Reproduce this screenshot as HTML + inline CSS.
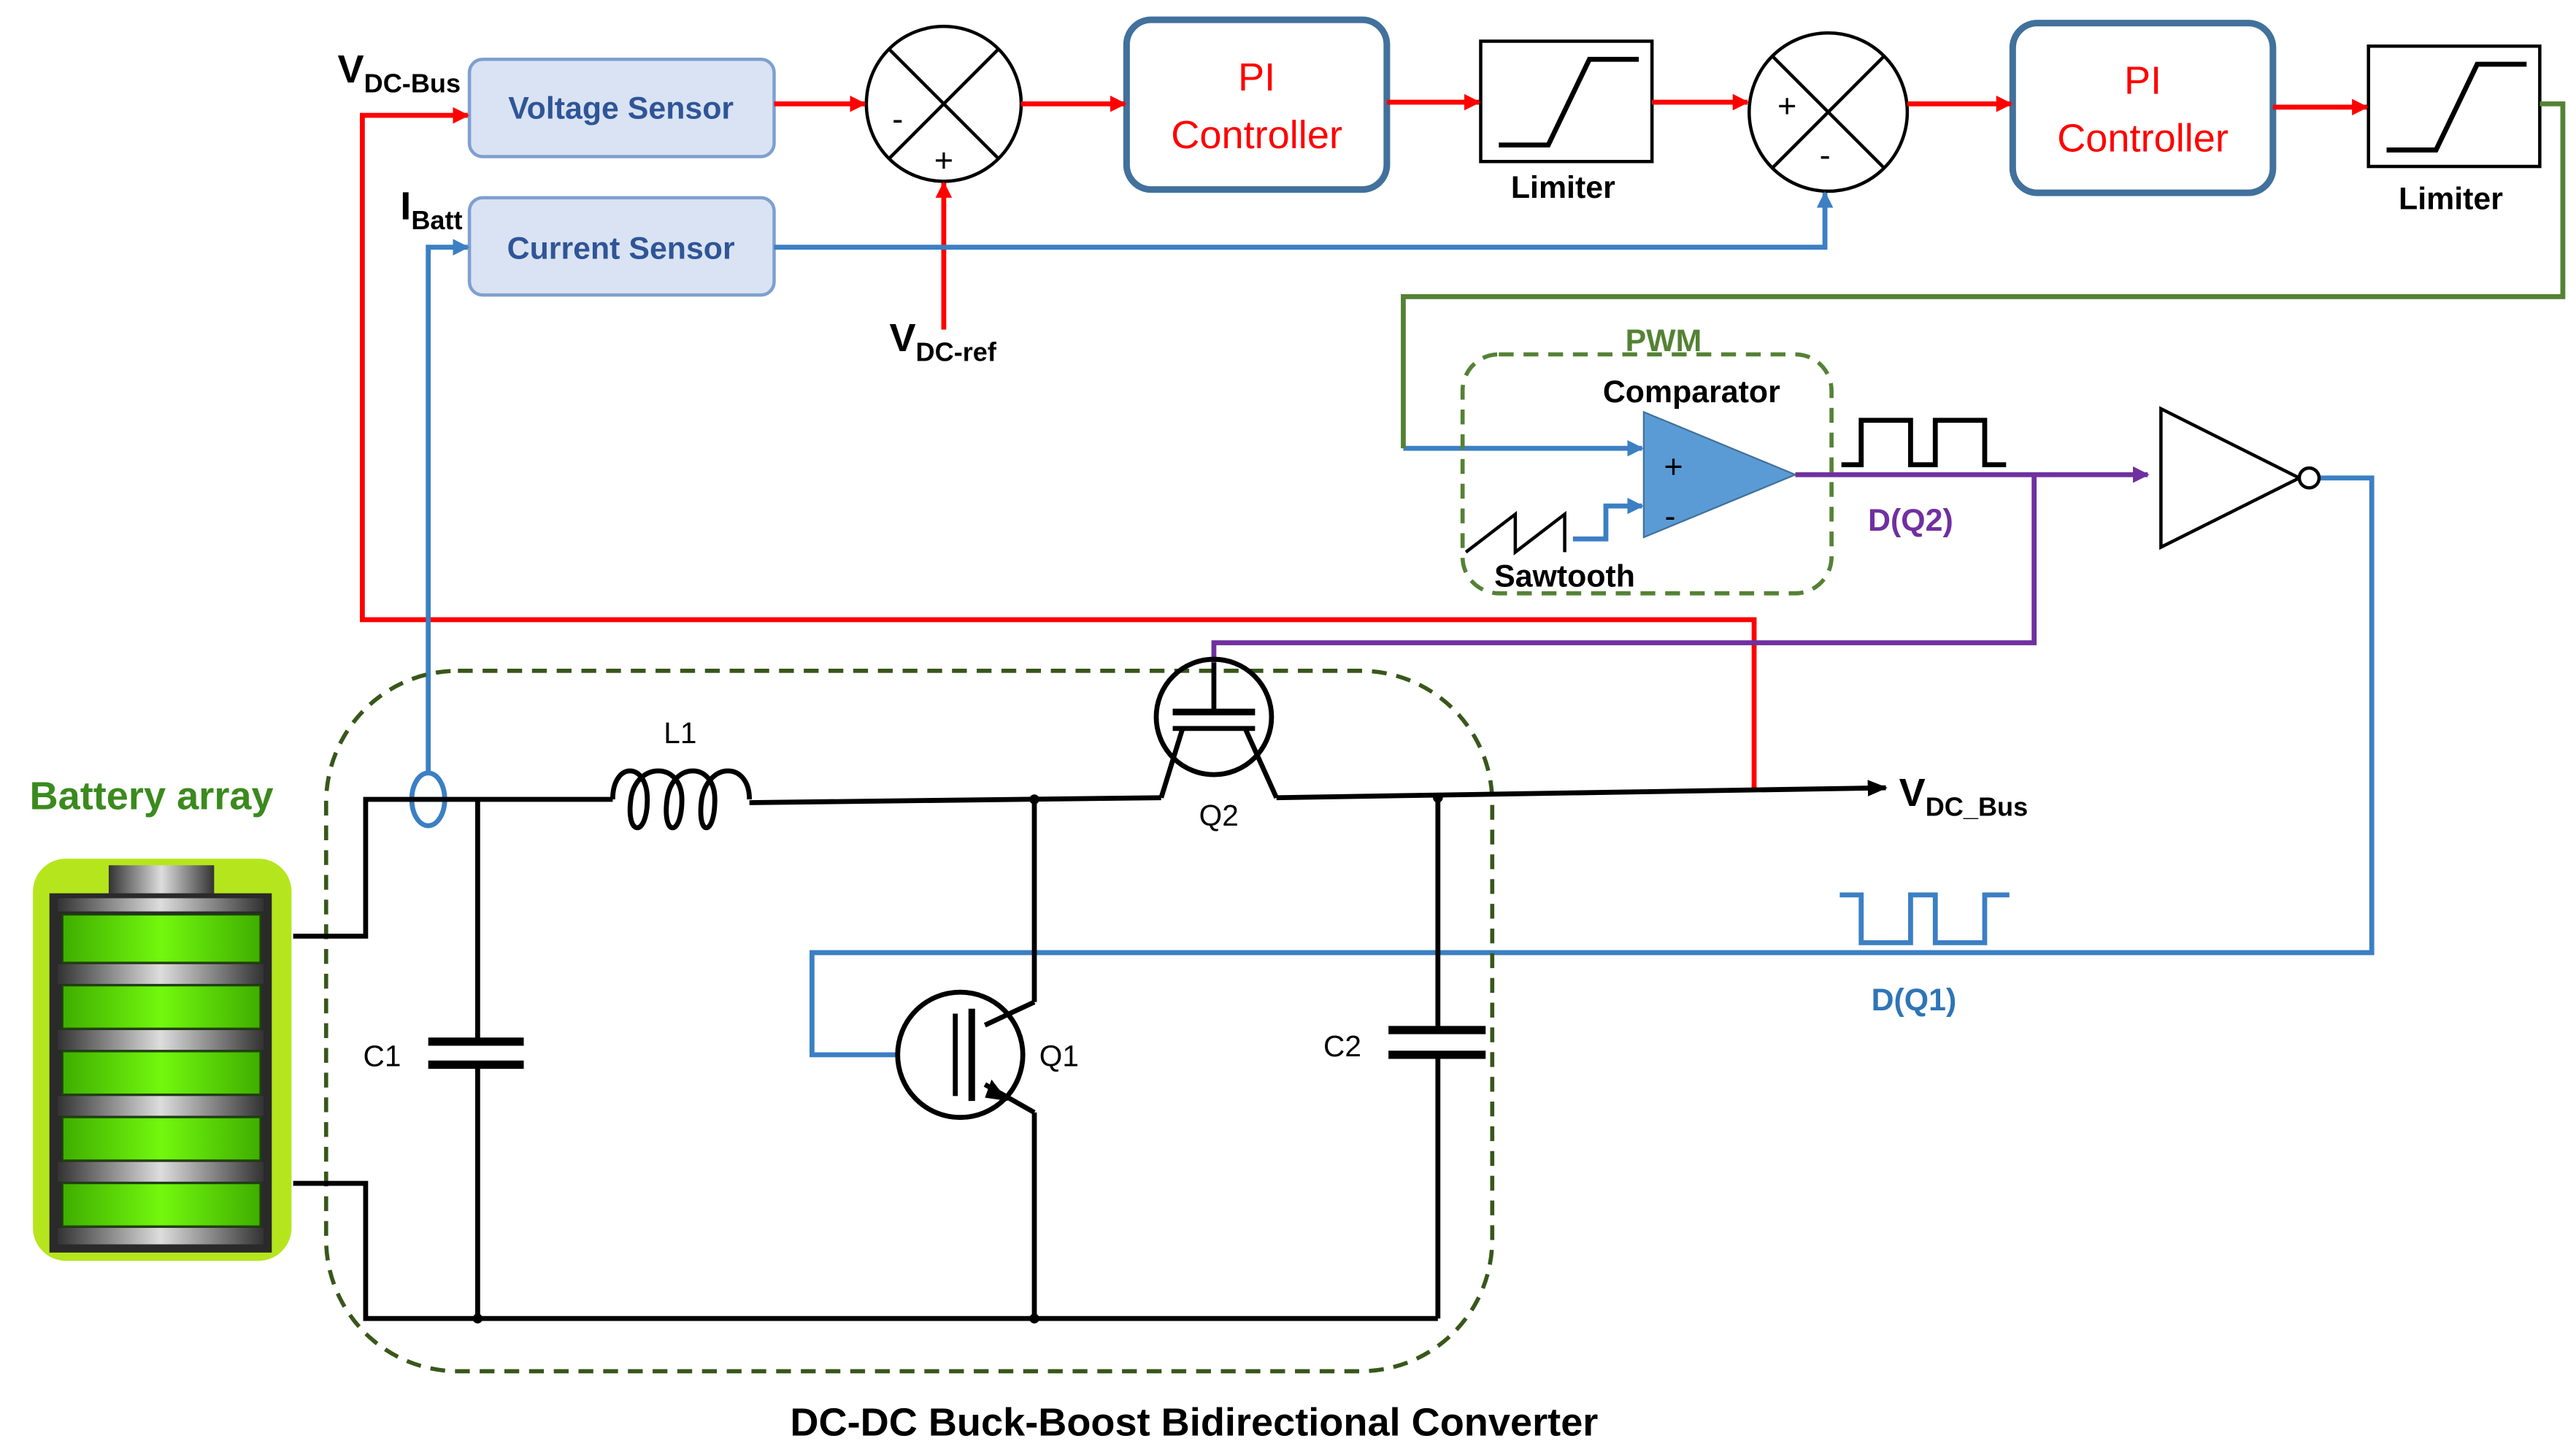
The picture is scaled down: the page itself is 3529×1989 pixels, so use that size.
<!DOCTYPE html>
<html><head><meta charset="utf-8"><style>
html,body{margin:0;padding:0;background:#fff;}
svg{display:block;}
text{font-family:"Liberation Sans",sans-serif;}
</style></head><body>
<svg width="3529" height="1989" viewBox="0 0 1564 881" preserveAspectRatio="none" xmlns="http://www.w3.org/2000/svg">
<defs>
<marker id="ar" markerWidth="10" markerHeight="10" refX="9" refY="5" orient="auto" markerUnits="userSpaceOnUse"><path d="M0,0 L10,5 L0,10 z" fill="#f00"/></marker>
<marker id="ab" markerWidth="10" markerHeight="10" refX="9" refY="5" orient="auto" markerUnits="userSpaceOnUse"><path d="M0,0 L10,5 L0,10 z" fill="#3b7fc4"/></marker>
<marker id="ap" markerWidth="10" markerHeight="10" refX="9" refY="5" orient="auto" markerUnits="userSpaceOnUse"><path d="M0,0 L10,5 L0,10 z" fill="#7030a0"/></marker>
<marker id="ak" markerWidth="12" markerHeight="10" refX="11" refY="5" orient="auto" markerUnits="userSpaceOnUse"><path d="M0,0 L12,5 L0,10 z" fill="#000"/></marker>
<linearGradient id="cell" x1="0" x2="1"><stop offset="0" stop-color="#3fae00"/><stop offset="0.5" stop-color="#72f80e"/><stop offset="1" stop-color="#3fae00"/></linearGradient>
<linearGradient id="metal" x1="0" x2="1"><stop offset="0" stop-color="#333"/><stop offset="0.5" stop-color="#ddd"/><stop offset="1" stop-color="#333"/></linearGradient>
</defs>

<!-- sensors -->
<rect x="285" y="36" width="185" height="59" rx="8" fill="#dae3f3" stroke="#7f9fcf" stroke-width="2"/>
<text x="377" y="72" font-size="19" font-weight="bold" fill="#2f5597" text-anchor="middle">Voltage Sensor</text>
<rect x="285" y="120" width="185" height="59" rx="8" fill="#dae3f3" stroke="#7f9fcf" stroke-width="2"/>
<text x="377" y="157" font-size="19" font-weight="bold" fill="#2f5597" text-anchor="middle">Current Sensor</text>

<!-- sum 1 -->
<circle cx="573" cy="63" r="47" fill="#fff" stroke="#000" stroke-width="2"/>
<line x1="540" y1="30" x2="606" y2="96" stroke="#000" stroke-width="2"/><line x1="606" y1="30" x2="540" y2="96" stroke="#000" stroke-width="2"/>
<text x="545" y="79" font-size="20" text-anchor="middle">-</text>
<text x="573" y="104" font-size="20" text-anchor="middle">+</text>
<!-- sum 2 -->
<circle cx="1110" cy="68" r="48" fill="#fff" stroke="#000" stroke-width="2"/>
<line x1="1076" y1="34" x2="1144" y2="102" stroke="#000" stroke-width="2"/><line x1="1144" y1="34" x2="1076" y2="102" stroke="#000" stroke-width="2"/>
<text x="1085" y="71" font-size="20" text-anchor="middle">+</text>
<text x="1108" y="101" font-size="20" text-anchor="middle">-</text>

<!-- PI -->
<rect x="684" y="12" width="158" height="103" rx="15" fill="#fff" stroke="#41719c" stroke-width="4"/>
<text x="763" y="55" font-size="24" fill="#f00" text-anchor="middle">PI</text>
<text x="763" y="90" font-size="24" fill="#f00" text-anchor="middle">Controller</text>
<rect x="1222" y="14" width="158" height="103" rx="15" fill="#fff" stroke="#41719c" stroke-width="4"/>
<text x="1301" y="57" font-size="24" fill="#f00" text-anchor="middle">PI</text>
<text x="1301" y="92" font-size="24" fill="#f00" text-anchor="middle">Controller</text>

<!-- limiters -->
<rect x="899" y="25" width="104" height="73" fill="#fff" stroke="#000" stroke-width="2"/>
<polyline points="910,88 940,88 965,36 995,36" fill="none" stroke="#000" stroke-width="3"/>
<text x="949" y="120" font-size="19" font-weight="bold" text-anchor="middle">Limiter</text>
<rect x="1438" y="28" width="104" height="73" fill="#fff" stroke="#000" stroke-width="2"/>
<polyline points="1449,91 1479,91 1504,39 1534,39" fill="none" stroke="#000" stroke-width="3"/>
<text x="1488" y="127" font-size="19" font-weight="bold" text-anchor="middle">Limiter</text>

<!-- red lines -->
<g stroke="#f00" stroke-width="3" fill="none">
<polyline points="1065,478 1065,376 220,376 220,70 284,70" marker-end="url(#ar)"/>
<line x1="470" y1="63" x2="525" y2="63" marker-end="url(#ar)"/>
<line x1="620" y1="63" x2="683" y2="63" marker-end="url(#ar)"/>
<line x1="842" y1="62" x2="898" y2="62" marker-end="url(#ar)"/>
<line x1="1003" y1="62" x2="1061" y2="62" marker-end="url(#ar)"/>
<line x1="1158" y1="63" x2="1221" y2="63" marker-end="url(#ar)"/>
<line x1="1380" y1="65" x2="1437" y2="65" marker-end="url(#ar)"/>
<line x1="573" y1="200" x2="573" y2="111" marker-end="url(#ar)"/>
</g>
<!-- blue -->
<g stroke="#3b7fc4" stroke-width="3" fill="none">
<polyline points="470,150 1108,150 1108,117" marker-end="url(#ab)"/>
<polyline points="260,470 260,150 284,150" marker-end="url(#ab)"/>
<line x1="852" y1="272" x2="997" y2="272" marker-end="url(#ab)"/>
<polyline points="955,327 975,327 975,307 997,307" marker-end="url(#ab)"/>
<polyline points="1408,290 1440,290 1440,578 493,578 493,640 545,640"/>
<polyline points="1117,543 1130,543 1130,572 1160,572 1160,543 1175,543 1175,572 1205,572 1205,543 1220,543" stroke-width="3"/>
</g>
<ellipse cx="260" cy="485" rx="10" ry="16" fill="none" stroke="#3b7fc4" stroke-width="3"/>
<!-- green -->
<polyline points="1542,63 1556,63 1556,180 852,180 852,272" fill="none" stroke="#548235" stroke-width="3"/>

<!-- PWM box -->
<rect x="888" y="215" width="224" height="145" rx="22" fill="none" stroke="#548235" stroke-width="2.5" stroke-dasharray="9,6"/>
<text x="1010" y="213" font-size="19" font-weight="bold" fill="#548235" text-anchor="middle">PWM</text>
<text x="1027" y="244" font-size="19" font-weight="bold" text-anchor="middle">Comparator</text>
<polygon points="998,250 998,326 1090,288" fill="#5b9bd5" stroke="#41719c" stroke-width="1"/>
<text x="1016" y="290" font-size="20" text-anchor="middle">+</text>
<text x="1014" y="320" font-size="20" text-anchor="middle">-</text>
<polyline points="890,335 920,312 920,335 950,312 950,335" fill="none" stroke="#000" stroke-width="2"/>
<text x="950" y="356" font-size="19" font-weight="bold" text-anchor="middle">Sawtooth</text>

<!-- purple -->
<g stroke="#7030a0" stroke-width="3" fill="none">
<line x1="1090" y1="288" x2="1304" y2="288" marker-end="url(#ap)"/>
<polyline points="1235,288 1235,390 737,390 737,402"/>
</g>
<polyline points="1118,282 1130,282 1130,255 1160,255 1160,282 1175,282 1175,255 1205,255 1205,282 1218,282" fill="none" stroke="#000" stroke-width="3"/>
<text x="1160" y="322" font-size="19" font-weight="bold" fill="#7030a0" text-anchor="middle">D(Q2)</text>
<text x="1162" y="613" font-size="19" font-weight="bold" fill="#2e75b6" text-anchor="middle">D(Q1)</text>

<!-- inverter -->
<polygon points="1312,248 1312,332 1396,290" fill="#fff" stroke="#000" stroke-width="2"/>
<circle cx="1402" cy="290" r="6" fill="#fff" stroke="#000" stroke-width="2"/>

<!-- converter box -->
<rect x="198" y="407" width="708" height="425" rx="80" fill="none" stroke="#38571a" stroke-width="2.5" stroke-dasharray="9,6"/>

<!-- circuit -->
<g stroke="#000" stroke-width="3" fill="none">
<polyline points="178,568 222,568 222,485 372,485"/>
<path d="M372,485 C372,462 393,462 393,485 C393,508 380,508 383,485 C386,462 414,462 414,485 C414,508 402,508 405,485 C408,462 434,462 434,485 C434,508 423,508 426,485 C430,462 455,462 455,485"/>
<polyline points="455,487 705,484"/>
<polyline points="775,484 1145,478" marker-end="url(#ak)"/>
<line x1="290" y1="485" x2="290" y2="630"/>
<line x1="260" y1="632" x2="318" y2="632" stroke-width="5"/>
<line x1="260" y1="646" x2="318" y2="646" stroke-width="5"/>
<line x1="290" y1="648" x2="290" y2="800"/>
<polyline points="178,718 222,718 222,800 873,800"/>
<line x1="628" y1="485" x2="628" y2="608"/>
<line x1="628" y1="608" x2="598" y2="622"/>
<line x1="598" y1="658" x2="628" y2="675"/>
<line x1="628" y1="675" x2="628" y2="800"/>
<line x1="873" y1="484" x2="873" y2="625"/>
<line x1="843" y1="625" x2="902" y2="625" stroke-width="5"/>
<line x1="843" y1="640" x2="902" y2="640" stroke-width="5"/>
<line x1="873" y1="641" x2="873" y2="800"/>
</g>
<!-- Q1 -->
<circle cx="583" cy="640" r="38" fill="none" stroke="#000" stroke-width="3"/>
<line x1="580" y1="615" x2="580" y2="665" stroke="#000" stroke-width="3"/>
<line x1="590" y1="612" x2="590" y2="668" stroke="#000" stroke-width="4"/>
<polygon points="612,668 602,655 598,666" fill="#000"/>
<!-- Q2 -->
<circle cx="737" cy="435" r="35" fill="none" stroke="#000" stroke-width="3"/>
<line x1="712" y1="432" x2="762" y2="432" stroke="#000" stroke-width="4"/>
<line x1="712" y1="442" x2="762" y2="442" stroke="#000" stroke-width="3"/>
<line x1="737" y1="402" x2="737" y2="432" stroke="#000" stroke-width="3"/>
<line x1="718" y1="442" x2="705" y2="484" stroke="#000" stroke-width="3"/>
<line x1="756" y1="442" x2="775" y2="484" stroke="#000" stroke-width="3"/>
<dots/>
<circle cx="628" cy="485" r="3" fill="#000"/><circle cx="873" cy="484" r="3" fill="#000"/>
<circle cx="290" cy="800" r="3" fill="#000"/><circle cx="628" cy="800" r="3" fill="#000"/>

<!-- labels -->
<text x="413" y="451" font-size="18" text-anchor="middle">L1</text>
<text x="740" y="501" font-size="18" text-anchor="middle">Q2</text>
<text x="643" y="647" font-size="18" text-anchor="middle">Q1</text>
<text x="232" y="647" font-size="18" text-anchor="middle">C1</text>
<text x="815" y="641" font-size="18" text-anchor="middle">C2</text>
<text x="1153" y="489" font-size="24" font-weight="bold">V<tspan font-size="16" dy="6">DC_Bus</tspan></text>
<text x="205" y="50" font-size="24" font-weight="bold">V<tspan font-size="16" dy="6">DC-Bus</tspan></text>
<text x="243" y="133" font-size="24" font-weight="bold">I<tspan font-size="16" dy="6">Batt</tspan></text>
<text x="540" y="213" font-size="24" font-weight="bold">V<tspan font-size="16" dy="6">DC-ref</tspan></text>
<text x="92" y="491" font-size="24" font-weight="bold" fill="#3b8a1e" text-anchor="middle">Battery array</text>
<text x="725" y="871" font-size="24" font-weight="bold" text-anchor="middle">DC-DC Buck-Boost Bidirectional Converter</text>

<!-- battery -->
<rect x="20" y="521" width="157" height="244" rx="20" fill="#b5e61d"/>
<rect x="66" y="525" width="64" height="20" fill="url(#metal)"/>
<rect x="30" y="542" width="135" height="218" fill="#2a2a2a"/>
<g fill="url(#metal)">
<rect x="35" y="585" width="125" height="12"/><rect x="35" y="625" width="125" height="12"/>
<rect x="35" y="665" width="125" height="12"/><rect x="35" y="705" width="125" height="12"/>
<rect x="35" y="745" width="125" height="10"/><rect x="35" y="545" width="125" height="8"/>
</g>
<g fill="url(#cell)" stroke="#1a4a00" stroke-width="1">
<rect x="38" y="555" width="120" height="29"/><rect x="38" y="598" width="120" height="26"/>
<rect x="38" y="638" width="120" height="26"/><rect x="38" y="678" width="120" height="26"/>
<rect x="38" y="718" width="120" height="26"/>
</g>
</svg>
</body></html>
